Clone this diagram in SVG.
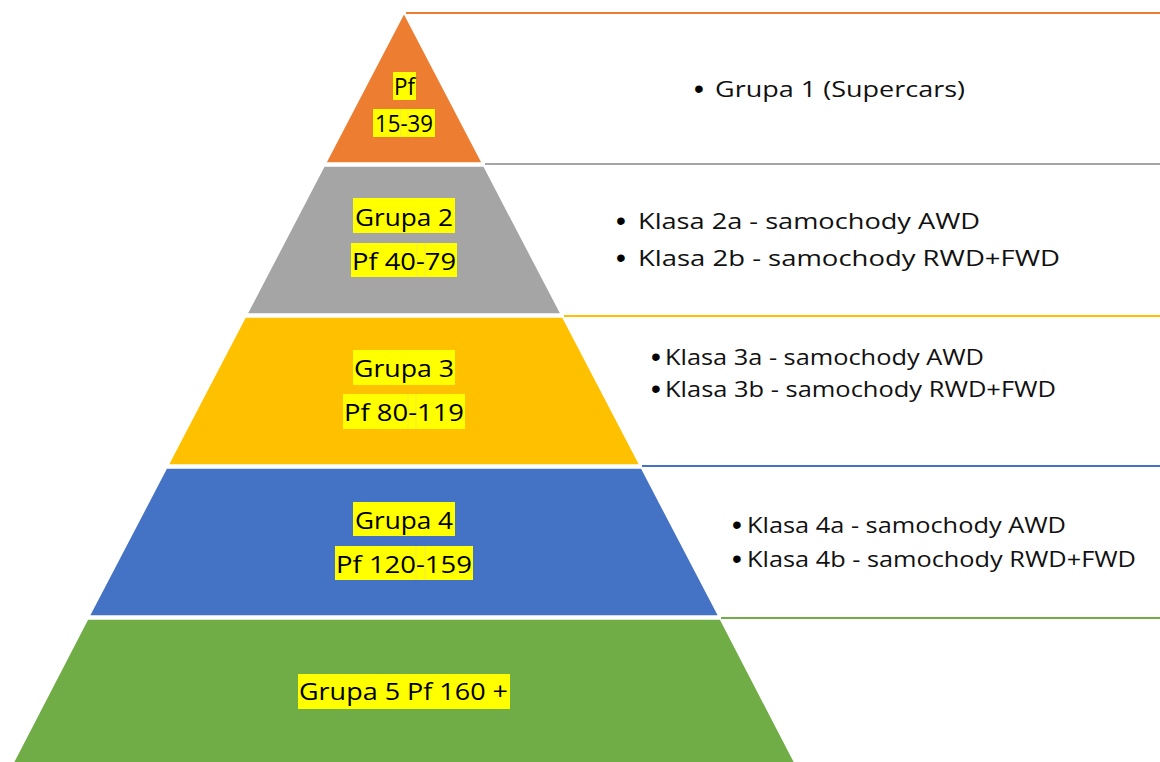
<svg xmlns="http://www.w3.org/2000/svg" width="1160" height="762" viewBox="0 0 1160 762">
<style>
.lbl{font-family:"Open Sans","Noto Sans","Liberation Sans",sans-serif;font-size:24px;fill:#000;text-anchor:middle}
.txt{font-family:"Open Sans","Noto Sans","Liberation Sans",sans-serif;font-size:22px;fill:#111}
.txt2{font-family:"Open Sans","Noto Sans","Liberation Sans",sans-serif;font-size:21px;fill:#111}
.bul{font-family:"Liberation Sans",Arial,sans-serif;font-size:28px;fill:#000;text-anchor:middle}
.hl{fill:#FFFF00}
.sep{stroke:#F2E24A;stroke-width:0.8}
.band{stroke:#fff;stroke-width:1.5}
.ln{stroke-width:2;fill:none}
</style>
<rect width="1160" height="762" fill="#fff"/>
<g id="connectors">
<line class="ln" x1="406" y1="13" x2="1160" y2="13" stroke="#ED7D31"/>
<line class="ln" x1="485" y1="164" x2="1160" y2="164" stroke="#A5A5A5"/>
<line class="ln" x1="564" y1="316" x2="1160" y2="316" stroke="#FFC000"/>
<line class="ln" x1="642" y1="466" x2="1160" y2="466" stroke="#4472C4"/>
<line class="ln" x1="721" y1="618" x2="1160" y2="618" stroke="#70AD47"/>
</g>
<g id="layer1">
<polygon class="band" points="404,13 482.3,163 325.7,163" fill="#ED7D31"/>
<rect class="hl" x="393" y="72" width="23" height="28"/>
<text class="lbl" x="404.5" y="95" font-size="21" textLength="21" lengthAdjust="spacingAndGlyphs">Pf</text>
<rect class="hl" x="373" y="109" width="62" height="28"/>
<line class="sep" x1="401" y1="109" x2="401" y2="137"/>
<line class="sep" x1="408" y1="109" x2="408" y2="137"/>
<text class="lbl" x="404" y="132" font-size="21" textLength="58" lengthAdjust="spacingAndGlyphs">15-39</text>
</g>
<g id="layer2">
<polygon class="band" points="324.1,166 483.9,166 561.1,314 246.9,314" fill="#A5A5A5"/>
<rect class="hl" x="353" y="198" width="102" height="35"/>
<text class="lbl" x="404" y="226" font-size="25" textLength="98" lengthAdjust="spacingAndGlyphs">Grupa 2</text>
<rect class="hl" x="351" y="243" width="106" height="34"/>
<line class="sep" x1="417" y1="243" x2="417" y2="277"/>
<line class="sep" x1="425" y1="243" x2="425" y2="277"/>
<text class="lbl" x="404" y="270" font-size="25" textLength="104" lengthAdjust="spacingAndGlyphs">Pf 40-79</text>
</g>
<g id="layer3">
<polygon class="band" points="245.3,317 562.7,317 639.9,465 168.1,465" fill="#FFC000"/>
<rect class="hl" x="353" y="350" width="102" height="35"/>
<text class="lbl" x="404" y="377" font-size="25" textLength="100" lengthAdjust="spacingAndGlyphs">Grupa 3</text>
<rect class="hl" x="343" y="394" width="122" height="35"/>
<line class="sep" x1="408" y1="394" x2="408" y2="429"/>
<line class="sep" x1="416" y1="394" x2="416" y2="429"/>
<text class="lbl" x="404" y="421" font-size="25" textLength="120" lengthAdjust="spacingAndGlyphs">Pf 80-119</text>
</g>
<g id="layer4">
<polygon class="band" points="166.5,468 641.5,468 718.8,616 89.2,616" fill="#4472C4"/>
<rect class="hl" x="353" y="502" width="102" height="34"/>
<text class="lbl" x="404" y="529" font-size="24" textLength="98" lengthAdjust="spacingAndGlyphs">Grupa 4</text>
<rect class="hl" x="335" y="546" width="138" height="34"/>
<line class="sep" x1="416" y1="546" x2="416" y2="580"/>
<line class="sep" x1="425" y1="546" x2="425" y2="580"/>
<text class="lbl" x="404" y="573" font-size="24" textLength="136" lengthAdjust="spacingAndGlyphs">Pf 120-159</text>
</g>
<g id="layer5">
<polygon class="band" points="87.7,619 720.3,619 796,765 12,765" fill="#70AD47"/>
<rect class="hl" x="298" y="674" width="212" height="35"/>
<text class="lbl" x="403.5" y="700" font-size="24" textLength="209" lengthAdjust="spacingAndGlyphs">Grupa 5 Pf 160 +</text>
</g>
<g id="text1">
<text class="bul" x="699" y="98">•</text>
<text class="txt" x="715" y="97" textLength="250" lengthAdjust="spacingAndGlyphs">Grupa 1 (Supercars)</text>
</g>
<g id="text2">
<text class="bul" x="621" y="230">•</text>
<text class="txt" x="638" y="229" textLength="342" lengthAdjust="spacingAndGlyphs">Klasa 2a - samochody AWD</text>
<text class="bul" x="621" y="267">•</text>
<text class="txt" x="638" y="266" textLength="422" lengthAdjust="spacingAndGlyphs">Klasa 2b - samochody RWD+FWD</text>
</g>
<g id="text3">
<text class="bul" x="656" y="366">•</text>
<text class="txt2" x="665" y="365" textLength="319" lengthAdjust="spacingAndGlyphs">Klasa 3a - samochody AWD</text>
<text class="bul" x="656" y="398">•</text>
<text class="txt2" x="665" y="397" textLength="391" lengthAdjust="spacingAndGlyphs">Klasa 3b - samochody RWD+FWD</text>
</g>
<g id="text4">
<text class="bul" x="737" y="534">•</text>
<text class="txt2" x="747" y="533" textLength="319" lengthAdjust="spacingAndGlyphs">Klasa 4a - samochody AWD</text>
<text class="bul" x="737" y="568">•</text>
<text class="txt2" x="747" y="567" textLength="389" lengthAdjust="spacingAndGlyphs">Klasa 4b - samochody RWD+FWD</text>
</g>
</svg>
